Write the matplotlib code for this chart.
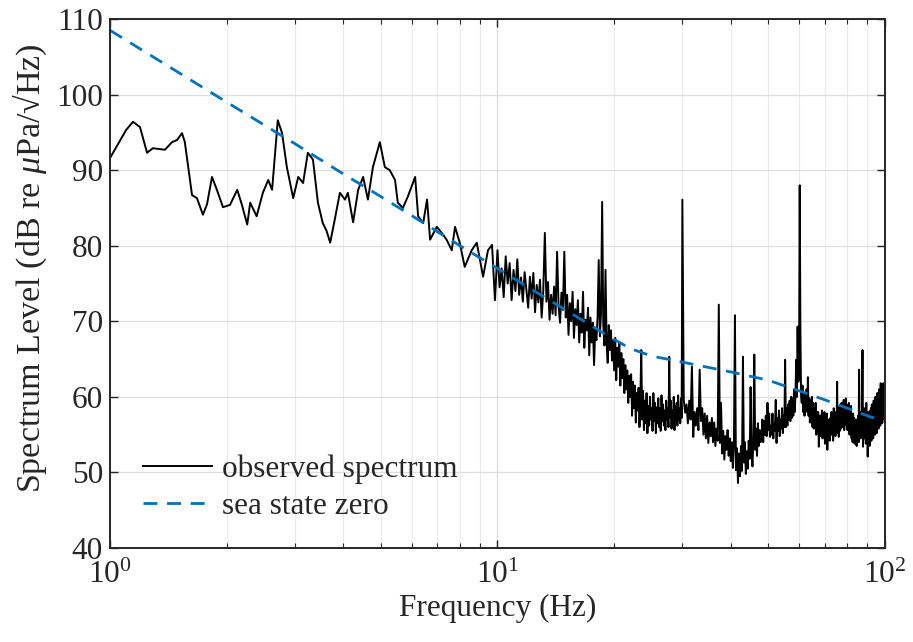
import numpy as np
import matplotlib
matplotlib.use("Agg")
import matplotlib.pyplot as plt
from matplotlib.ticker import LogLocator, NullFormatter, MultipleLocator

plt.rcParams['font.family'] = ['Liberation Serif', 'DejaVu Serif']
plt.rcParams['mathtext.fontset'] = 'custom'
plt.rcParams['mathtext.rm'] = 'Liberation Serif'
plt.rcParams['mathtext.it'] = 'Liberation Serif:italic'

# ---- observed spectrum, low frequency part (1-10 Hz) ----
low_freq = [1.00, 1.05, 1.10, 1.146, 1.195, 1.246, 1.29, 1.34, 1.386, 1.445, 1.49, 1.534,
            1.56, 1.60, 1.628, 1.676, 1.737, 1.78, 1.833, 1.887, 1.957, 2.04, 2.13, 2.19,
            2.26, 2.30, 2.39, 2.48, 2.56, 2.62, 2.71, 2.78, 2.86, 2.97, 3.06, 3.15, 3.24,
            3.34, 3.44, 3.54, 3.62, 3.70, 3.80, 3.92, 4.04, 4.11, 4.24, 4.37, 4.50, 4.63,
            4.77, 4.97, 5.12, 5.27, 5.44, 5.53, 5.70, 5.87, 6.13, 6.24, 6.43, 6.58, 6.70,
            6.97, 7.18, 7.39, 7.62, 7.77, 7.99, 8.23, 8.58, 8.84, 9.18, 9.45, 9.68, 9.85]
low_db = [91.6, 93.5, 95.3, 96.4, 95.7, 92.3, 92.9, 92.8, 92.7, 93.7, 94.0, 94.9,
          93.7, 89.5, 86.7, 86.3, 84.1, 85.5, 89.1, 87.4, 85.1, 85.4, 87.4, 85.4,
          82.8, 85.7, 83.9, 87.0, 88.7, 87.4, 96.6, 94.9, 90.4, 86.3, 89.1, 88.3, 92.3,
          91.4, 85.7, 83.0, 82.0, 80.4, 83.4, 87.0, 86.1, 87.0, 83.1, 87.4, 89.1, 86.1,
          90.4, 93.7, 90.4, 90.0, 88.7, 85.7, 85.0, 86.5, 89.1, 83.9, 83.0, 86.1, 80.8,
          82.5, 81.7, 80.8, 79.4, 82.5, 80.4, 77.2, 79.4, 80.4, 75.9, 79.4, 80.1, 72.8]

# ---- observed spectrum, 10-30 Hz on a 0.125 Hz grid ----
mid_freq = np.arange(10.0, 29.999, 0.125)
mid_db = [
    79.4, 74.5, 77.0, 73.2, 78.6, 75.0, 77.7, 72.8,   # 10
    76.8, 74.0, 78.2, 73.5, 75.8, 72.6, 76.5, 74.2,   # 11
    71.8, 75.9, 73.0, 76.4, 71.2, 74.8, 72.5, 75.5,   # 12
    70.5, 74.0, 81.7, 72.6, 75.2, 70.2, 73.5, 71.0,   # 13
    74.6, 70.8, 79.2, 72.0, 69.8, 73.8, 71.5, 79.2,   # 14
    70.5, 73.5, 68.2, 72.4, 70.0, 73.9, 67.8, 71.6,   # 15
    69.5, 72.8, 67.2, 71.0, 68.5, 73.9, 66.5, 70.2,   # 16
    68.8, 71.8, 65.5, 70.5, 67.2, 69.8, 64.2, 69.0,   # 17
    67.5, 70.5, 78.1, 68.0, 71.0, 85.8, 69.5, 66.8,   # 18
    76.8, 67.0, 64.5, 69.5, 66.2, 68.8, 64.8, 67.5,   # 19
    63.5, 67.8, 62.2, 66.5, 64.0, 67.2, 61.5, 65.8,   # 20
    62.5, 65.0, 60.5, 64.2, 61.0, 63.5, 59.2, 62.8,   # 21
    60.0, 63.0, 57.5, 62.0, 58.5, 61.5, 56.6, 60.5,   # 22
    58.2, 61.2, 56.0, 60.0, 66.2, 57.0, 60.8, 55.6,   # 23
    59.5, 56.5, 60.5, 55.2, 58.8, 56.2, 60.0, 57.0,   # 24
    58.5, 55.5, 60.5, 56.8, 59.2, 55.2, 58.6, 56.5,   # 25
    59.8, 56.0, 58.5, 55.5, 60.2, 56.8, 59.0, 56.2,   # 26
    58.2, 55.6, 59.5, 57.0, 58.5, 56.0, 65.3, 57.2,   # 27
    59.5, 55.8, 58.2, 56.5, 60.0, 55.6, 58.8, 56.8,   # 28
    59.2, 56.2, 60.2, 57.0, 58.5, 56.5, 59.8, 57.2,   # 29
]

# ---- observed spectrum, 30-100 Hz on a 0.25 Hz grid ----
hi_freq = np.arange(30.0, 100.001, 0.25)
hi_db = [
    86.1, 59.6, 57.9, 59.0,   # 30
    56.5, 59.5, 57.0, 64.0,   # 31
    54.7, 58.0, 56.2, 58.5,   # 32
    55.6, 63.6, 56.8, 58.5,   # 33
    55.0, 57.8, 54.5, 57.5,   # 34
    53.9, 56.6, 54.8, 57.2,   # 35
    54.0, 56.6, 53.5, 55.8,   # 36
    54.2, 72.2, 53.9, 59.2,   # 37
    52.5, 55.5, 51.7, 54.8,   # 38
    53.0, 55.6, 52.2, 54.5,   # 39
    51.5, 54.0, 50.6, 53.5,   # 40
    70.8, 50.3, 53.2, 48.6,   # 41
    52.5, 49.5, 53.5, 50.2,   # 42
    65.3, 51.3, 54.0, 49.8,   # 43
    52.8, 50.5, 54.2, 51.8,   # 44
    61.3, 53.0, 50.8, 54.6,   # 45
    65.6, 53.0, 55.8, 52.2,   # 46
    56.5, 53.5, 55.6, 54.0,   # 47
    54.5, 57.0, 54.0, 56.8,   # 48
    55.0, 57.5, 54.8, 59.2,   # 49
    55.6, 57.8, 54.7, 56.2,   # 50
    55.0, 57.8, 54.5, 56.5,   # 51
    55.5, 59.6, 53.9, 57.2,   # 52
    55.5, 58.2, 54.8, 57.0,   # 53
    55.8, 58.5, 55.2, 57.6,   # 54
    56.0, 64.9, 56.0, 58.5,   # 55
    56.2, 59.0, 57.0, 59.5,   # 56
    56.8, 60.0, 57.2, 59.8,   # 57
    57.5, 61.0, 58.0, 60.2,   # 58
    64.9, 60.0, 69.3, 62.0,   # 59
    62.5, 88.0, 68.9, 60.0,   # 60
    59.2, 61.5, 58.0, 60.5,   # 61
    57.5, 60.2, 58.6, 61.0,   # 62
    58.0, 62.6, 57.5, 59.8,   # 63
    56.6, 59.5, 57.2, 60.0,   # 64
    56.0, 59.2, 55.8, 58.5,   # 65
    56.6, 59.2, 55.0, 58.0,   # 66
    55.2, 58.0, 53.4, 57.5,   # 67
    54.8, 57.5, 55.6, 58.2,   # 68
    54.5, 57.0, 55.2, 58.0,   # 69
    53.8, 56.5, 55.0, 57.8,   # 70
    53.0, 56.0, 54.5, 57.0,   # 71
    54.2, 57.2, 55.0, 58.0,   # 72
    55.0, 57.5, 54.2, 58.5,   # 73
    55.5, 58.0, 54.8, 57.5,   # 74
    56.0, 62.0, 55.2, 58.6,   # 75
    54.7, 58.0, 55.5, 59.0,   # 76
    55.8, 59.2, 56.0, 58.5,   # 77
    56.0, 59.6, 55.6, 58.8,   # 78
    56.5, 59.8, 56.2, 59.0,   # 79
    55.6, 58.5, 56.0, 59.2,   # 80
    55.0, 58.0, 55.5, 58.8,   # 81
    54.5, 57.5, 54.0, 57.8,   # 82
    55.0, 57.2, 53.8, 56.8,   # 83
    54.2, 57.0, 53.5, 56.5,   # 84
    55.0, 57.5, 54.0, 63.6,   # 85
    55.5, 57.8, 54.5, 58.0,   # 86
    55.0, 58.0, 66.2, 53.4,   # 87
    57.0, 55.0, 58.5, 54.5,   # 88
    57.5, 53.8, 59.2, 55.0,   # 89
    57.8, 52.1, 58.0, 54.8,   # 90
    57.2, 53.5, 58.2, 55.0,   # 91
    58.5, 54.2, 59.0, 55.5,   # 92
    57.8, 54.5, 59.5, 56.0,   # 93
    58.5, 55.0, 60.0, 56.5,   # 94
    59.0, 55.2, 60.5, 56.0,   # 95
    58.8, 55.8, 61.0, 57.0,   # 96
    59.5, 56.2, 61.8, 57.5,   # 97
    60.0, 56.5, 61.2, 58.0,   # 98
    61.8, 57.0, 60.5, 58.2,   # 99
    60.0,                     # 100
]

# ---- sea state zero curve ----
ss0_freq = [1, 2, 3, 4, 5, 6, 8, 10, 12, 15, 18, 20, 22, 25, 30, 35, 40, 50, 60, 70, 80, 90, 100]
ss0_db = [108.5, 99.0, 93.5, 89.5, 86.5, 84.0, 80.0, 77.0, 74.5, 71.5, 69.0, 67.6, 66.4,
          65.4, 64.6, 63.9, 63.3, 62.2, 60.8, 59.6, 58.5, 57.5, 56.7]

obs_freq = np.concatenate([np.array(low_freq), mid_freq, hi_freq])
obs_db = np.concatenate([np.array(low_db), np.array(mid_db), np.array(hi_db)])

txt = '#262626'
fs = 22.5
fig = plt.figure(figsize=(9.13, 6.42), dpi=100)
ax = fig.add_axes([0.1205, 0.1464, 0.8488, 0.824])

ax.plot(obs_freq, obs_db, color='black', lw=1.4, label='observed spectrum')
ax.plot(ss0_freq, ss0_db, color='#0072BD', lw=2.0, linestyle=(0, (5, 3.5)),
        label='sea state zero')

ax.set_xscale('log')
ax.set_xlim(1, 100)
ax.set_ylim(40, 110)
ax.yaxis.set_major_locator(MultipleLocator(10))
ax.xaxis.set_major_locator(LogLocator(base=10))
ax.xaxis.set_minor_locator(LogLocator(base=10, subs=np.arange(2, 10)))
ax.xaxis.set_minor_formatter(NullFormatter())

ax.grid(True, which='major', color='#dedede', lw=0.9)
ax.grid(True, which='minor', axis='x', color='#ececec', lw=0.8)
ax.set_axisbelow(True)

ax.tick_params(axis='both', which='both', direction='in', top=True, right=True,
               colors=txt, labelsize=fs)
ax.tick_params(which='major', length=6, width=1.0)
ax.tick_params(which='minor', length=3.5, width=0.8)
ax.tick_params(axis='x', which='major', pad=9)
ax.tick_params(axis='y', which='major', pad=5)
for s in ax.spines.values():
    s.set_color(txt)
    s.set_linewidth(1.4)

ax.set_xlabel('Frequency (Hz)', fontsize=fs, color=txt, labelpad=3)
ax.set_ylabel('Spectrum Level (dB re $\\mu$Pa/\u221aHz)', fontsize=24.5, color=txt)
ax.yaxis.set_label_coords(-0.079, 0.53)

leg = ax.legend(loc='lower left', bbox_to_anchor=(0.035, 0.04), frameon=False,
                fontsize=fs, handlelength=2.2, handletextpad=0.3, labelspacing=0.25,
                borderpad=0.2, borderaxespad=0)
for t in leg.get_texts():
    t.set_color(txt)

fig.savefig('out.png', dpi=100)
